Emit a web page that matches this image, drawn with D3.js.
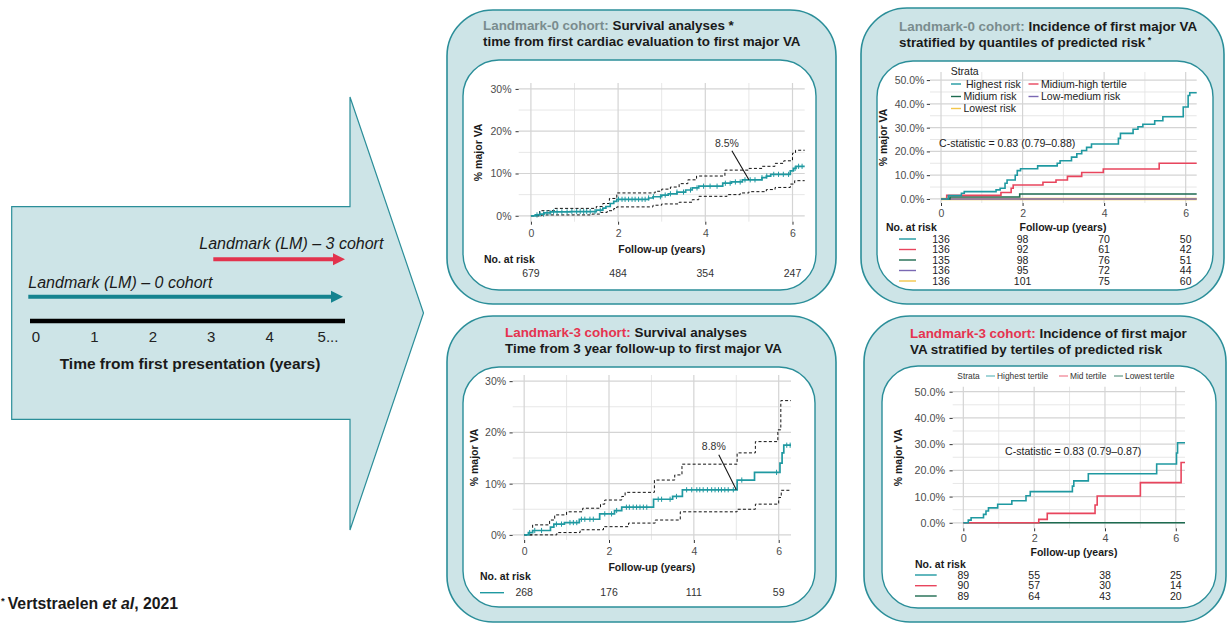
<!DOCTYPE html>
<html>
<head>
<meta charset="utf-8">
<script src="https://cdn.jsdelivr.net/npm/d3@7"></script>
<style>
  body { margin: 0; background: #fff; }
  svg { display: block; font-family: "Liberation Sans", Arial, Helvetica, sans-serif; }
</style>
</head>
<body>
<svg id="chart" width="1227" height="626"></svg>
<script>
// ---------- data ----------
const followUpTicks = [0, 2, 4, 6];
const survivalTicks = [0, 10, 20, 30];
const strataTicks = [0, 10, 20, 30, 40, 50];
const timelineTicks = ["0", "1", "2", "3", "4", "5..."];

// Landmark-0: cumulative incidence of first major VA (years, %)
const lm0Incidence = [[0,0],[0.1,0.2],[0.2,0.4],[0.3,0.7],[0.45,0.9],[0.9,1.0],[1.5,1.35],[1.65,1.8],[1.72,2.2],[1.82,2.9],[1.9,3.4],[1.97,3.9],[2.7,4.2],[2.8,4.5],[3.0,4.9],[3.15,5.2],[3.35,5.6],[3.55,6.1],[3.7,6.6],[3.85,7.0],[4.4,7.7],[4.6,8.0],[4.85,8.5],[5.3,9.0],[5.4,9.4],[5.5,9.8],[5.95,10.6],[6.02,11.2],[6.08,11.7]];
const lm0Upper = [[0,0],[0.2,1.2],[0.55,1.75],[1.5,2.2],[1.65,2.9],[1.8,4.1],[1.97,5.4],[2.85,5.8],[3.0,6.3],[3.2,6.8],[3.4,7.6],[3.6,8.5],[3.8,9.4],[4.45,10.8],[5.0,11.2],[5.3,11.7],[5.6,12.4],[5.8,13.0],[6.0,14.8],[6.07,15.5]];
const lm0Lower = [[0,0],[0.25,0.2],[1.4,0.4],[1.6,0.8],[1.75,1.2],[1.9,1.7],[1.97,2.1],[2.8,2.5],[3.0,2.8],[3.4,3.2],[3.7,3.8],[3.85,4.6],[4.5,5.0],[4.8,5.4],[5.0,5.7],[5.4,6.2],[5.6,6.7],[5.95,7.5],[6.05,8.3]];
const lm0Censored = [0.14,0.21,0.29,0.37,0.44,0.52,0.6,0.71,0.83,0.94,1.05,1.13,1.21,1.28,1.36,1.47,1.59,2.01,2.09,2.16,2.24,2.32,2.39,2.47,2.55,2.62,2.7,2.81,2.97,3.08,3.2,3.35,3.5,3.66,3.81,3.96,4.11,4.27,4.46,4.57,4.69,4.8,4.91,5.03,5.14,5.3,5.41,5.57,5.68,5.79,5.91,6.06,6.14,6.22];
const lm0AtRisk = [679, 484, 354, 247];
const lm0LabelTime = 5;

// Landmark-0: incidence by quantiles of predicted risk
const lm0StrataNames = ["Highest risk", "Midium-high tertile", "Midium risk", "Low-medium risk", "Lowest risk"];
const lm0Highest = [[0,0],[0.18,1.4],[0.5,2.4],[0.57,3.1],[1.35,3.8],[1.45,4.5],[1.57,6.6],[1.62,8.0],[1.82,10.0],[1.87,11.9],[1.95,12.7],[2.37,13.9],[2.85,15.0],[2.92,16.1],[3.2,17.6],[3.33,19.0],[3.45,20.4],[3.57,21.7],[3.69,23.1],[4.35,25.5],[4.4,27.6],[4.71,29.3],[4.83,30.4],[4.95,31.4],[5.24,32.9],[5.44,34.6],[5.94,38.7],[6.06,43.5],[6.1,44.7]];
const lm0MidHigh = [[0,0],[0.14,1.5],[1.47,2.7],[1.72,4.5],[1.77,5.9],[2.5,7.0],[2.82,8.0],[3.1,9.5],[3.45,11.1],[3.98,12.6],[5.35,15.0]];
const lm0Mid = [[0,0],[0.22,0.8],[1.93,2.1]];
const lm0LowMed = [[0,0]];
const lm0Lowest = [[0,0]];
const lm0StrataAtRisk = [[136,98,70,50],[136,92,61,42],[135,98,76,51],[136,95,72,44],[136,101,75,60]];
const lm0CStat = "C-statistic = 0.83 (0.79\u20130.88)";

// Landmark-3: cumulative incidence from 3-year follow-up
const lm3Incidence = [[0,0],[0.1,0.45],[0.2,0.85],[0.62,1.5],[0.7,2.1],[0.95,2.4],[1.3,3.05],[1.78,4.1],[2.13,4.75],[2.3,5.4],[3.05,6.95],[3.5,7.5],[3.73,8.8],[5.02,10.7],[5.43,12.2],[6.03,14.0],[6.08,16.0],[6.12,17.5]];
const lm3Upper = [[0,0],[0.2,1.95],[0.6,2.9],[0.72,3.9],[1.0,4.5],[1.38,5.2],[1.8,6.0],[1.9,6.8],[2.3,7.5],[2.38,8.3],[3.07,10.7],[3.55,11.7],[3.72,13.8],[5.02,16.0],[5.45,18.2],[5.98,20.5],[6.05,26.2]];
const lm3Lower = [[0,0],[0.77,0.45],[1.32,1.0],[1.87,1.6],[2.46,2.3],[3.09,2.9],[3.68,4.5],[5.02,5.0],[5.45,6.0],[6.0,7.3],[6.06,8.7]];
const lm3Censored = [0.13,0.25,0.41,0.76,0.88,1.08,1.16,1.24,1.35,1.43,1.55,1.63,1.9,2.06,2.18,2.41,2.48,2.57,2.65,2.73,2.81,2.89,3.16,3.24,3.44,3.59,3.83,3.95,4.07,4.14,4.22,4.32,4.42,4.5,4.58,4.65,4.73,4.81,4.93,5.13,5.95,6.19,6.27];
const lm3AtRisk = [268, 176, 111, 59];
const lm3LabelTime = 5;

// Landmark-3: incidence by tertiles of predicted risk
const lm3StrataNames = ["Highest tertile", "Mid tertile", "Lowest tertile"];
const lm3Highest = [[0,0],[0.14,1.0],[0.22,1.9],[0.57,3.2],[0.64,4.5],[0.71,5.7],[0.97,7.1],[1.37,8.4],[1.77,10.3],[1.89,11.9],[3.08,14.0],[3.12,16.0],[3.53,18.7],[5.46,22.4],[6.02,26.6],[6.05,30.5]];
const lm3Mid = [[0,0],[2.13,1.3],[2.37,3.6],[3.72,6.8],[3.78,10.2],[5.0,15.3],[6.15,23.0]];
const lm3Lowest = [[0,0]];
const lm3StrataAtRisk = [[89,55,38,25],[90,57,30,14],[89,64,43,20]];
const lm3CStat = "C-statistic = 0.83 (0.79\u20130.87)";

// ---------- styles ----------
const C = {
  panelFill: "#cde4e7", panelStroke: "#2b8e99",
  teal: "#1f99a1", red: "#e8455d", green: "#1d6b50", purple: "#7a68b3", yellow: "#f3c64a",
  grey: "#7a8c8e", lmRed: "#e5334f", text: "#1a1a1a", axis: "#4d4d4d",
  gridMajor: "#d4d4d4", gridMinor: "#e4e4e4"
};
const strata0Colors = [C.teal, C.red, C.green, C.purple, C.yellow];
const strata3Colors = [C.teal, C.red, C.green];

const svg = d3.select("#chart");

// ---------- helpers ----------
function valueAt(data, t) {
  let v = 0;
  for (const [tt, p] of data) if (tt <= t) v = p;
  return v;
}
function stepPath(data, x, y) {
  const xEnd = x.domain()[1];
  const pts = data.concat([[xEnd, data[data.length - 1][1]]]);
  return d3.line().x(d => x(d[0])).y(d => y(d[1])).curve(d3.curveStepAfter)(pts);
}
function panel(o, i) {
  svg.append("rect").attr("x", o[0]).attr("y", o[1]).attr("width", o[2] - o[0]).attr("height", o[3] - o[1])
    .attr("rx", 46).attr("fill", C.panelFill).attr("stroke", C.panelStroke).attr("stroke-width", 1.6);
  svg.append("rect").attr("x", i[0]).attr("y", i[1]).attr("width", i[2] - i[0]).attr("height", i[3] - i[1])
    .attr("rx", 36).attr("fill", "#fff").attr("stroke", C.panelStroke).attr("stroke-width", 1.4);
}
function title(x, y1, y2, lead, leadColor, rest1, line2, sup) {
  const t1 = svg.append("text").attr("x", x).attr("y", y1).attr("font-size", 13.4).attr("font-weight", "bold");
  t1.append("tspan").attr("fill", leadColor).text(lead + " ");
  t1.append("tspan").attr("fill", C.text).text(rest1);
  const t2 = svg.append("text").attr("x", x).attr("y", y2).attr("font-size", 13.4).attr("font-weight", "bold").attr("fill", C.text);
  t2.append("tspan").text(line2);
  if (sup) t2.append("tspan").attr("font-size", 9).attr("dy", -4).text(" *");
}
function frame(g, x, y, yTicks, yMinor, fmt, opts) {
  const [x0, x1] = x.range(), [y0, y1] = y.range();
  const xMinor = [1, 3, 5];
  g.selectAll(".vmin").data(xMinor).join("line")
    .attr("x1", d => x(d)).attr("x2", d => x(d)).attr("y1", y1).attr("y2", y0)
    .attr("stroke", C.gridMinor).attr("stroke-width", 0.9);
  g.selectAll(".hmin").data(yMinor).join("line")
    .attr("x1", x0).attr("x2", x1).attr("y1", d => y(d)).attr("y2", d => y(d))
    .attr("stroke", C.gridMinor).attr("stroke-width", 0.9);
  g.selectAll(".vmaj").data(followUpTicks).join("line")
    .attr("x1", d => x(d)).attr("x2", d => x(d)).attr("y1", y1).attr("y2", y0)
    .attr("stroke", C.gridMajor).attr("stroke-width", 1.2);
  g.selectAll(".hmaj").data(yTicks).join("line")
    .attr("x1", x0).attr("x2", x1).attr("y1", d => y(d)).attr("y2", d => y(d))
    .attr("stroke", C.gridMajor).attr("stroke-width", 1.2);

  const ya = g.append("g").attr("transform", `translate(${x0},0)`)
    .call(d3.axisLeft(y).tickValues(yTicks).tickFormat(fmt).tickSize(3.2).tickPadding(opts.yPad));
  const xa = g.append("g").attr("transform", `translate(0,${y0})`)
    .call(d3.axisBottom(x).tickValues(followUpTicks).tickFormat(d3.format("d")).tickSize(3).tickPadding(opts.xPad));
  [ya, xa].forEach(a => {
    a.select(".domain").remove();
    a.selectAll(".tick line").attr("stroke", "#333").attr("stroke-width", 1);
    a.selectAll(".tick text").attr("fill", C.axis).attr("font-size", opts.fs)
      .attr("font-family", '"Liberation Sans", Arial, sans-serif');
  });
  g.append("text").attr("transform", `translate(${opts.yTitleX},${(y0 + y1) / 2}) rotate(-90)`)
    .attr("text-anchor", "middle").attr("dy", "0.35em").attr("font-size", 10.5).attr("font-weight", "bold")
    .attr("fill", C.text).text("% major VA");
  g.append("text").attr("x", opts.xTitleX != null ? opts.xTitleX : (x0 + x1) / 2).attr("y", opts.xTitleY)
    .attr("text-anchor", "middle").attr("dy", "0.35em").attr("font-size", 10.5).attr("font-weight", "bold")
    .attr("fill", C.text).text("Follow-up (years)");
}
function kmCurve(g, x, y, est, upper, lower, censored) {
  [upper, lower].forEach(ci => g.append("path").attr("d", stepPath(ci, x, y)).attr("fill", "none")
    .attr("stroke", "#111").attr("stroke-width", 1).attr("stroke-dasharray", "3,2.2"));
  g.append("path").attr("d", stepPath(est, x, y)).attr("fill", "none")
    .attr("stroke", C.teal).attr("stroke-width", 1.7);
  g.selectAll(".cens").data(censored).join("line")
    .attr("x1", d => x(d)).attr("x2", d => x(d))
    .attr("y1", d => y(valueAt(est, d)) - 2.6).attr("y2", d => y(valueAt(est, d)) + 2.6)
    .attr("stroke", C.teal).attr("stroke-width", 1);
}
function annotate(g, x, y, est, t, dx, dy) {
  const v = valueAt(est, t);
  const px = x(t), py = y(v);
  g.append("line").attr("x1", px + dx + 5).attr("y1", py + dy + 8).attr("x2", px).attr("y2", py)
    .attr("stroke", "#111").attr("stroke-width", 1.1);
  g.append("text").attr("x", px + dx).attr("y", py + dy).attr("dy", "0.35em").attr("text-anchor", "middle")
    .attr("font-size", 10.5).attr("fill", "#333").text(d3.format(".1f")(v) + "%");
}
const pct0 = d => d + "%";
const pct1 = d => d3.format(".1f")(d) + "%";

// ---------- left: landmark timeline diagram ----------
svg.append("polygon")
  .attr("points", "11.7,206.7 350,206.7 350,97 423.5,313 350,530 350,419.3 11.7,419.3")
  .attr("fill", C.panelFill).attr("stroke", C.panelStroke).attr("stroke-width", 1.2);

const tl = d3.scalePoint().domain(timelineTicks).range([36, 328]);
function arrow(xa, xb, yy, color) {
  svg.append("line").attr("x1", xa).attr("x2", xb - 10).attr("y1", yy).attr("y2", yy)
    .attr("stroke", color).attr("stroke-width", 4);
  svg.append("polygon").attr("points", `${xb - 12},${yy - 6} ${xb},${yy} ${xb - 12},${yy + 6}`).attr("fill", color);
}
svg.append("text").attr("x", 199.3).attr("y", 249).attr("font-size", 16).attr("font-style", "italic")
  .attr("fill", C.text).text("Landmark (LM) \u2013 3 cohort");
arrow(213.3, 345, 259.3, "#e2334d");
svg.append("text").attr("x", 28.3).attr("y", 287.5).attr("font-size", 16).attr("font-style", "italic")
  .attr("fill", C.text).text("Landmark (LM) \u2013 0 cohort");
arrow(28.3, 343, 296.7, "#14838f");
svg.append("line").attr("x1", 30).attr("x2", 345).attr("y1", 321).attr("y2", 321)
  .attr("stroke", "#000").attr("stroke-width", 4.5);
svg.selectAll(".tlt").data(timelineTicks).join("text")
  .attr("x", d => tl(d)).attr("y", 342).attr("text-anchor", "middle").attr("font-size", 15)
  .attr("fill", "#222").text(d => d);
svg.append("text").attr("x", 190).attr("y", 368.8).attr("text-anchor", "middle").attr("font-size", 15.5)
  .attr("font-weight", "bold").attr("fill", C.text).text("Time from first presentation (years)");

// footnote
const fn = svg.append("text").attr("x", 1).attr("y", 609).attr("font-size", 15.8).attr("font-weight", "bold").attr("fill", C.text);
fn.append("tspan").attr("font-size", 9.5).attr("dy", -5.5).text("*");
fn.append("tspan").attr("dy", 5.5).attr("dx", 3).text("Vertstraelen ");
fn.append("tspan").attr("font-style", "italic").text("et al");
fn.append("tspan").text(", 2021");

// ---------- panel backgrounds ----------
panel([447, 10, 836, 304], [463, 60, 816, 290]);
panel([861, 8, 1224, 304], [877, 61, 1213, 290]);
panel([447, 316, 836, 622], [463, 367, 815, 607]);
panel([864, 316, 1226, 622], [882, 366, 1216, 608]);

title(483, 29.5, 45.5, "Landmark-0 cohort:", C.grey, "Survival analyses *", "time from first cardiac evaluation to first major VA", false);
title(899, 30.5, 46.5, "Landmark-0 cohort:", C.grey, "Incidence of first major VA", "stratified by quantiles of predicted risk", true);
title(505, 337, 353, "Landmark-3 cohort:", C.lmRed, "Survival analyses", "Time from 3 year follow-up to first major VA", false);
title(910, 338, 353.5, "Landmark-3 cohort:", C.lmRed, "Incidence of first major", "VA stratified by tertiles of predicted risk", false);

// ---------- top-left: LM-0 survival ----------
{
  const x = d3.scaleLinear().domain([-0.28, 6.28]).range([518.7, 804.7]);
  const y = d3.scaleLinear().domain([-1.4, 31.4]).range([221.7, 83]);
  const g = svg.append("g");
  frame(g, x, y, survivalTicks, [5, 15, 25], pct0, { yPad: 4, xPad: 4.8, fs: 10.5, yTitleX: 478.7, xTitleY: 249 });
  kmCurve(g, x, y, lm0Incidence, lm0Upper, lm0Lower, lm0Censored);
  annotate(g, x, y, lm0Incidence, lm0LabelTime, -22, -37);
  g.append("text").attr("x", 484).attr("y", 259).attr("dy", "0.35em").attr("font-size", 10.5)
    .attr("font-weight", "bold").attr("fill", C.text).text("No. at risk");
  g.selectAll(".risk").data(lm0AtRisk).join("text")
    .attr("x", (d, i) => x(followUpTicks[i])).attr("y", 273).attr("dy", "0.35em").attr("text-anchor", "middle")
    .attr("font-size", 10.5).attr("fill", "#333").text(d => d);
}

// ---------- top-right: LM-0 strata ----------
{
  const x = d3.scaleLinear().domain([-0.27, 6.27]).range([930, 1196.7]);
  const y = d3.scaleLinear().domain([-1.7, 53.4]).range([203, 72]);
  const g = svg.append("g");
  frame(g, x, y, strataTicks, [5, 15, 25, 35, 45], pct1, { yPad: 2.4, xPad: 3.5, fs: 10.5, yTitleX: 883.5, xTitleY: 227, xTitleX: 1063 });
  const series = [lm0Highest, lm0MidHigh, lm0Mid, lm0LowMed, lm0Lowest];
  // draw lower strata first so the highest sits on top
  [4, 3, 2, 1, 0].forEach(k => {
    g.append("path").attr("d", stepPath(series[k], x, y)).attr("fill", "none")
      .attr("stroke", strata0Colors[k]).attr("stroke-width", k === 4 ? 2.6 : 1.6);
  });
  g.append("text").attr("x", 939).attr("y", 143).attr("dy", "0.35em").attr("font-size", 10.6)
    .attr("fill", "#222").text(lm0CStat);
  // legend
  g.append("text").attr("x", 950.7).attr("y", 71.7).attr("dy", "0.35em").attr("font-size", 10.5).attr("fill", "#222").text("Strata");
  const legPos = [[951, 84], [1028.5, 84], [951, 96.5], [1028.5, 96.5], [951, 108.5]];
  lm0StrataNames.forEach((n, k) => {
    const [lx, ly] = legPos[k];
    g.append("line").attr("x1", lx).attr("x2", lx + 10).attr("y1", ly).attr("y2", ly)
      .attr("stroke", strata0Colors[k]).attr("stroke-width", 1.4);
    g.append("text").attr("x", lx + (k === 0 ? 15 : 12.5)).attr("y", ly).attr("dy", "0.35em")
      .attr("font-size", 10.5).attr("fill", "#222").text(n);
  });
  // risk table
  g.append("text").attr("x", 886).attr("y", 227).attr("dy", "0.35em").attr("font-size", 10.5)
    .attr("font-weight", "bold").attr("fill", C.text).text("No. at risk");
  const rowY = [239, 249.5, 260, 270.5, 281];
  lm0StrataAtRisk.forEach((row, k) => {
    g.append("line").attr("x1", 899).attr("x2", 916).attr("y1", rowY[k]).attr("y2", rowY[k])
      .attr("stroke", strata0Colors[k]).attr("stroke-width", 1.4);
    g.selectAll(".r" + k).data(row).join("text")
      .attr("x", (d, i) => x(followUpTicks[i])).attr("y", rowY[k]).attr("dy", "0.35em").attr("text-anchor", "middle")
      .attr("font-size", 10.5).attr("fill", "#222").text(d => d);
  });
}

// ---------- bottom-left: LM-3 survival ----------
{
  const x = d3.scaleLinear().domain([-0.27, 6.29]).range([512.7, 791]);
  const y = d3.scaleLinear().domain([-1, 31.2]).range([540, 375]);
  const g = svg.append("g");
  frame(g, x, y, survivalTicks, [5, 15, 25], pct0, { yPad: 3.4, xPad: 5, fs: 10.5, yTitleX: 474, xTitleY: 567.3 });
  kmCurve(g, x, y, lm3Incidence, lm3Upper, lm3Lower, lm3Censored);
  annotate(g, x, y, lm3Incidence, lm3LabelTime, -22.5, -43);
  g.append("text").attr("x", 480).attr("y", 576.7).attr("dy", "0.35em").attr("font-size", 10.5)
    .attr("font-weight", "bold").attr("fill", C.text).text("No. at risk");
  g.append("line").attr("x1", 480).attr("x2", 504).attr("y1", 592.7).attr("y2", 592.7)
    .attr("stroke", C.teal).attr("stroke-width", 1.4);
  g.selectAll(".risk").data(lm3AtRisk).join("text")
    .attr("x", (d, i) => x(followUpTicks[i])).attr("y", 592.7).attr("dy", "0.35em").attr("text-anchor", "middle")
    .attr("font-size", 10.5).attr("fill", "#333").text(d => d);
}

// ---------- bottom-right: LM-3 strata ----------
{
  const x = d3.scaleLinear().domain([-0.3, 6.26]).range([952.7, 1185]);
  const y = d3.scaleLinear().domain([-2.1, 51.9]).range([528.3, 386.7]);
  const g = svg.append("g");
  frame(g, x, y, strataTicks, [5, 15, 25, 35, 45], pct1, { yPad: 4.5, xPad: 3.5, fs: 10.8, yTitleX: 898.5, xTitleY: 552.7, xTitleX: 1074 });
  const series = [lm3Highest, lm3Mid, lm3Lowest];
  [2, 1, 0].forEach(k => {
    g.append("path").attr("d", stepPath(series[k], x, y)).attr("fill", "none")
      .attr("stroke", strata3Colors[k]).attr("stroke-width", 1.6);
  });
  g.append("text").attr("x", 1005).attr("y", 451.7).attr("dy", "0.35em").attr("font-size", 10.6)
    .attr("fill", "#222").text(lm3CStat);
  // legend row
  g.append("text").attr("x", 957.3).attr("y", 376).attr("dy", "0.35em").attr("font-size", 8.4).attr("fill", "#333").text("Strata");
  const legX = [986, 1059, 1114];
  lm3StrataNames.forEach((n, k) => {
    g.append("line").attr("x1", legX[k]).attr("x2", legX[k] + 9).attr("y1", 376).attr("y2", 376)
      .attr("stroke", strata3Colors[k]).attr("stroke-opacity", 0.6).attr("stroke-width", 1.4);
    g.append("text").attr("x", legX[k] + 11).attr("y", 376).attr("dy", "0.35em")
      .attr("font-size", 8.4).attr("fill", "#333").text(n);
  });
  // risk table
  g.append("text").attr("x", 915).attr("y", 564).attr("dy", "0.35em").attr("font-size", 10.5)
    .attr("font-weight", "bold").attr("fill", C.text).text("No. at risk");
  const rowY = [575, 585.7, 596];
  lm3StrataAtRisk.forEach((row, k) => {
    g.append("line").attr("x1", 915).attr("x2", 936.7).attr("y1", rowY[k]).attr("y2", rowY[k])
      .attr("stroke", strata3Colors[k]).attr("stroke-width", 1.4);
    g.selectAll(".r" + k).data(row).join("text")
      .attr("x", (d, i) => x(followUpTicks[i])).attr("y", rowY[k]).attr("dy", "0.35em").attr("text-anchor", "middle")
      .attr("font-size", 10.5).attr("fill", "#222").text(d => d);
  });
}
</script>
</body>
</html>
